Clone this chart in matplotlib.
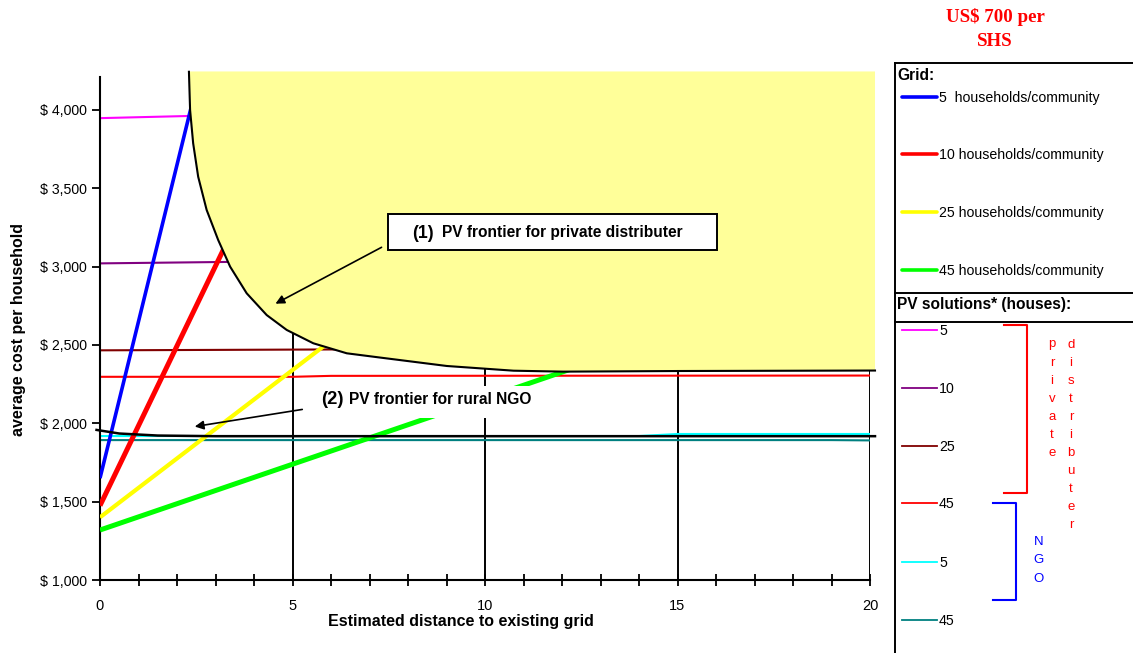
import matplotlib
matplotlib.use('Agg')
import matplotlib.pyplot as plt
from matplotlib.patches import Polygon, Rectangle

plt.rcParams['font.family'] = ['Liberation Sans', 'DejaVu Sans']

# ---------------- data ----------------
x_ticks = [0, 5, 10, 15, 20]
x_minor = [1, 2, 3, 4, 6, 7, 8, 9, 11, 12, 13, 14, 16, 17, 18, 19]
y_ticks = [1000, 1500, 2000, 2500, 3000, 3500, 4000]
y_tick_labels = ['$ 1,000', '$ 1,500', '$ 2,000', '$ 2,500', '$ 3,000', '$ 3,500', '$ 4,000']

# Grid extension cost (households per community)
grid_labels = ['5  households/community', '10 households/community',
               '25 households/community', '45 households/community']
grid5_x = [0, 2.4]
grid5_y = [1650, 4050]
grid10_x = [0, 3.6]
grid10_y = [1475, 3310]
grid25_x = [0, 7.0]
grid25_y = [1400, 2716]
grid45_x = [0, 13.0]
grid45_y = [1319, 2411]

# PV solutions (houses)
pv_labels = ['5', '10', '25', '45', '5', '45']
pv5_x = [0, 2.5]
pv5_y = [3948, 3963]
pv10_x = [0, 3.6]
pv10_y = [3021, 3031]
pv25_x = [0, 6.5]
pv25_y = [2466, 2472]
pv45_x = [0, 5, 6, 20]
pv45_y = [2297, 2297, 2303, 2305]
ngo5_x = [0, 14, 15, 20]
ngo5_y = [1919, 1919, 1932, 1932]
ngo45_x = [0, 19, 20]
ngo45_y = [1893, 1893, 1891]

# Frontier (1): private distributer
front1_x = [2.31, 2.34, 2.42, 2.55, 2.77, 3.07, 3.38, 3.81, 4.33, 4.85, 5.54, 6.41,
            7.27, 9.01, 10.74, 12.03, 15.06, 20.13]
front1_y = [4244, 4000, 3787, 3574, 3362, 3170, 3000, 2830, 2691, 2596, 2511, 2447,
            2420, 2366, 2336, 2330, 2334, 2337]
front1_top = 4246
# Frontier (2): rural NGO
front2_x = [-0.09, 0.5, 1.5, 3.0, 20.13]
front2_y = [1958, 1935, 1922, 1918, 1918]

title_lines = ['US$ 700 per', 'SHS']

# ---------------- styles ----------------
grid_colors = ['#0000FF', '#FF0000', '#FFFF00', '#00FF00']
grid_lw = [2.6, 3.6, 3.0, 3.6]
pv_colors = ['#FF00FF', '#800080', '#800000', '#FF0000', '#00FFFF', '#008080']

W, H = 1133, 653
fig = plt.figure(figsize=(W / 100, H / 100), dpi=100)
ax = fig.add_axes([100 / W, 73 / H, 770 / W, 508 / H])
ax.set_xlim(0, 20)
ax.set_ylim(1000, 1000 + 508 / 0.156667)

# vertical gridlines
for xv in [5, 10, 15, 20]:
    ax.axvline(xv, color='black', lw=1.4, zorder=1)

grid_series = [(grid5_x, grid5_y), (grid10_x, grid10_y), (grid25_x, grid25_y), (grid45_x, grid45_y)]
for (gx, gy), c, lw in zip(grid_series, grid_colors, grid_lw):
    ax.plot(gx, gy, color=c, lw=lw, solid_capstyle='butt', zorder=3)

pv_series = [(pv5_x, pv5_y), (pv10_x, pv10_y), (pv25_x, pv25_y), (pv45_x, pv45_y),
             (ngo5_x, ngo5_y), (ngo45_x, ngo45_y)]
for (px_, py_), c in zip(pv_series, pv_colors):
    ax.plot(px_, py_, color=c, lw=1.5, zorder=2)

# yellow region above frontier (1)
poly_pts = list(zip(front1_x, front1_y)) + [(front1_x[-1], front1_top), (front1_x[0], front1_top)]
ax.add_patch(Polygon(poly_pts, closed=True, facecolor='#FFFF99', edgecolor='none',
                     zorder=4, clip_on=False))
ax.plot(front1_x, front1_y, color='black', lw=1.5, zorder=5, clip_on=False,
        solid_joinstyle='round')
ax.plot(front2_x, front2_y, color='black', lw=1.8, zorder=5, clip_on=False)

# axes styling
for s in ['top', 'right']:
    ax.spines[s].set_visible(False)
ax.spines['left'].set_bounds(1000, 4210)
ax.spines['left'].set_linewidth(1.5)
ax.spines['bottom'].set_linewidth(1.5)
ax.set_xticks(x_ticks)
ax.set_xticks(x_minor, minor=True)
ax.set_yticks(y_ticks)
ax.set_yticklabels(y_tick_labels)
ax.tick_params(axis='x', which='both', direction='inout', length=9, width=1.3,
               labelsize=10.5, pad=9.5)
ax.tick_params(axis='y', direction='out', length=6, width=1.3, labelsize=10.2, pad=3.5)
ax.set_xlabel('Estimated distance to existing grid', fontsize=11.5, fontweight='bold')
ax.xaxis.set_label_coords((461 - 100) / 770, (580 - 621.5) / 508)
ax.xaxis.label.set_va('center')
ax.set_ylabel('average cost per household', fontsize=11.5, fontweight='bold')
ax.yaxis.set_label_coords((18.5 - 100) / 770, (580 - 329) / 508)
ax.yaxis.label.set_va('center')

# ---------------- overlay (pixel coords) ----------------
lax = fig.add_axes([0, 0, 1, 1], zorder=5)
lax.set_xlim(0, W)
lax.set_ylim(H, 0)
lax.axis('off')
lax.patch.set_alpha(0)

# annotation (1)
lax.add_patch(Rectangle((388, 214), 329, 36, facecolor='white', edgecolor='black', lw=1.4))
lax.text(412, 233, '(1)', fontsize=12.8, fontweight='bold', va='center', ha='left')
lax.text(442, 233, 'PV frontier for private distributer', fontsize=11.2, fontweight='bold',
         va='center', ha='left')
lax.annotate('', xy=(273, 305), xytext=(384, 246),
             arrowprops=dict(arrowstyle='-|>', color='black', lw=1.2, mutation_scale=13))

# annotation (2)
lax.add_patch(Rectangle((315, 386), 230, 32, facecolor='white', edgecolor='none'))
lax.text(321, 400, '(2)', fontsize=13.2, fontweight='bold', va='center', ha='left')
lax.text(349, 400, 'PV frontier for rural NGO', fontsize=11.2, fontweight='bold',
         va='center', ha='left')
lax.annotate('', xy=(192, 427), xytext=(305, 409),
             arrowprops=dict(arrowstyle='-|>', color='black', lw=1.2, mutation_scale=13))

# title
lax.text(995, 17.5, title_lines[0], fontsize=13.6, fontweight='bold', color='#FF0000',
         family='Liberation Serif', ha='center', va='center')
lax.text(995, 41, title_lines[1], fontsize=13.6, fontweight='bold', color='#FF0000',
         family='Liberation Serif', ha='center', va='center')

# legend frame
lax.plot([895, 895], [63, H], color='black', lw=1.4)
lax.plot([895, W], [63, 63], color='black', lw=1.4)
lax.plot([895, W], [293, 293], color='black', lw=1.4)
lax.plot([895, W], [322, 322], color='black', lw=1.4)
lax.text(897, 76, 'Grid:', fontsize=11.2, fontweight='bold', va='center', ha='left')
lax.text(897, 305, 'PV solutions* (houses):', fontsize=11.2, fontweight='bold',
         va='center', ha='left')

grid_leg_y = [97, 154, 212, 270]
for yy, lab, c in zip(grid_leg_y, grid_labels, grid_colors):
    lax.plot([902, 937], [yy, yy], color=c, lw=2.6, solid_capstyle='round')
    lax.text(939, yy + 1, lab, fontsize=10.2, va='center', ha='left')

pv_leg_y = [330, 388, 446, 503, 562, 620]
for yy, lab, c in zip(pv_leg_y, pv_labels, pv_colors):
    lax.plot([902, 937], [yy, yy], color=c, lw=1.3)
    lax.text(939, yy + 1, lab, fontsize=10.2, va='center', ha='left')

# brackets
lax.plot([1004, 1027, 1027, 1004], [325, 325, 493, 493], color='#FF0000', lw=1.5)
lax.plot([993, 1016, 1016, 993], [503, 503, 600, 600], color='#0000FF', lw=1.5)
for i, ch in enumerate('private'):
    lax.text(1052, 347.5 + i * 18.1, ch, fontsize=9.5, color='#FF0000', ha='center', va='baseline')
for i, ch in enumerate('distributer'):
    lax.text(1071, 347.5 + i * 18.1, ch, fontsize=9.5, color='#FF0000', ha='center', va='baseline')
for i, ch in enumerate('NGO'):
    lax.text(1039, 545 + i * 18.3, ch, fontsize=9.5, color='#0000FF', ha='center', va='baseline')

fig.savefig('out.png', dpi=100)
